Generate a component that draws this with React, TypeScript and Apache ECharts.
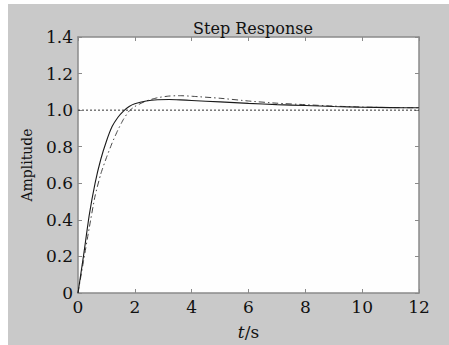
import React, { useEffect, useRef } from "react";
import * as echarts from "echarts";

const timeS = [0, 0.2, 0.4, 0.6, 0.8, 1.0, 1.2, 1.4, 1.6, 1.8, 2.0, 2.4, 2.8, 3.2, 3.6, 4, 5, 6, 7, 8, 9, 10, 11, 12];
const solidResp = [0, 0.21, 0.43, 0.6, 0.73, 0.83, 0.91, 0.96, 0.995, 1.02, 1.035, 1.05, 1.057, 1.058, 1.056, 1.053, 1.045, 1.037, 1.03, 1.025, 1.02, 1.016, 1.014, 1.013];
const dashResp = [0, 0.18, 0.36, 0.53, 0.65, 0.74, 0.82, 0.89, 0.95, 0.995, 1.02, 1.05, 1.068, 1.077, 1.079, 1.076, 1.065, 1.05, 1.038, 1.03, 1.022, 1.017, 1.014, 1.013];
const refLevel = [1, 1];
const refTime = [0, 12];
const xTicks = [0, 2, 4, 6, 8, 10, 12];
const yTicks = [0, 0.2, 0.4, 0.6, 0.8, 1.0, 1.2, 1.4];

const FONT = "DejaVu Serif";
const FRAME = "#8a8a8a";

export default function App() {
  const ref = useRef<HTMLDivElement>(null);
  useEffect(() => {
    if (!ref.current) return;
    const chart = echarts.init(ref.current, null, { renderer: "svg" });
    const tickCommon = { show: true, inside: true, length: 4, lineStyle: { color: FRAME, width: 1 } };
    chart.setOption({
      animation: false,
      backgroundColor: "#c9c9c9",
      title: {
        text: "Step Response",
        left: 240,
        top: 11,
        textAlign: "center",
        textStyle: { fontFamily: FONT, fontSize: 16, fontWeight: "normal", color: "#111" },
      },
      grid: { left: 70, top: 33, width: 341, height: 261, backgroundColor: "#fefefe", show: true, borderWidth: 0 },
      xAxis: [
        {
          type: "value",
          min: 0,
          max: 12,
          interval: 2,
          position: "bottom",
          axisLine: { show: true, onZero: false, lineStyle: { color: FRAME, width: 1.5 } },
          axisTick: tickCommon,
          splitLine: { show: false },
          axisLabel: {
            fontFamily: FONT,
            fontSize: 17,
            color: "#111",
            margin: 5,
            formatter: (v: number) => (xTicks.includes(v) ? String(v) : ""),
          },
          name: "{i|t}/s",
          nameLocation: "middle",
          nameGap: 30,
          nameTextStyle: {
            fontFamily: FONT,
            fontSize: 17,
            color: "#111",
            rich: { i: { fontFamily: FONT, fontSize: 17, fontStyle: "italic", color: "#111" } },
          },
        },
        {
          type: "value",
          min: 0,
          max: 12,
          interval: 2,
          position: "top",
          axisLine: { show: true, onZero: false, lineStyle: { color: FRAME, width: 1.5 } },
          axisTick: tickCommon,
          axisLabel: { show: false },
          splitLine: { show: false },
        },
      ],
      yAxis: [
        {
          type: "value",
          min: 0,
          max: 1.4,
          interval: 0.2,
          position: "left",
          axisLine: { show: true, onZero: false, lineStyle: { color: FRAME, width: 1.5 } },
          axisTick: tickCommon,
          splitLine: { show: false },
          axisLabel: {
            fontFamily: FONT,
            fontSize: 17,
            color: "#111",
            margin: 5,
            formatter: (v: number) => {
              const t = yTicks.find((y) => Math.abs(y - v) < 1e-6);
              if (t === undefined) return "";
              return t === 0 ? "0" : t.toFixed(1);
            },
          },
          name: "Amplitude",
          nameLocation: "middle",
          nameGap: 44,
          nameTextStyle: { fontFamily: FONT, fontSize: 14, color: "#111" },
        },
        {
          type: "value",
          min: 0,
          max: 1.4,
          interval: 0.2,
          position: "right",
          axisLine: { show: true, onZero: false, lineStyle: { color: FRAME, width: 1.5 } },
          axisTick: tickCommon,
          axisLabel: { show: false },
          splitLine: { show: false },
        },
      ],
      series: [
        {
          type: "line",
          data: refTime.map((t, i) => [t, refLevel[i]]),
          showSymbol: false,
          lineStyle: { color: "#333", width: 1, type: [2, 2] },
          silent: true,
        },
        {
          type: "line",
          data: timeS.map((t, i) => [t, dashResp[i]]),
          showSymbol: false,
          smooth: 0.2,
          lineStyle: { color: "#444", width: 1, type: [6, 3, 1.5, 3] },
          silent: true,
        },
        {
          type: "line",
          data: timeS.map((t, i) => [t, solidResp[i]]),
          showSymbol: false,
          smooth: 0.2,
          lineStyle: { color: "#1a1a1a", width: 1.1 },
          silent: true,
        },
      ],
    });
    return () => chart.dispose();
  }, []);
  return (
    <div
      ref={ref}
      style={{ position: "absolute", left: 8, top: 4, width: 441, height: 341 }}
    />
  );
}
